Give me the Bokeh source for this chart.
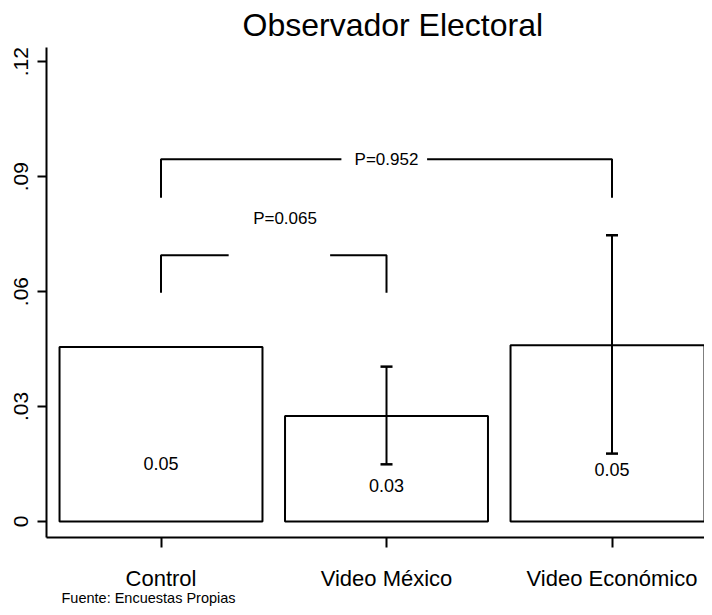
from bokeh.plotting import figure
from bokeh.models import (ColumnDataSource, Whisker, TeeHead, FixedTicker,
                          CustomJSTickFormatter, Title, Range1d)
from bokeh.core.properties import value
from bokeh.embed import file_html
from bokeh.resources import INLINE

# ---- data ----
categories = ["Control", "Video México", "Video Económico"]
x_pos = [1, 2, 3]
means = [0.0455, 0.0275, 0.046]
value_labels = ["0.05", "0.03", "0.05"]
label_y = [0.015, 0.0093, 0.0135]

ci_x = [2, 3]
ci_low = [0.0149, 0.0177]
ci_high = [0.0404, 0.0747]

y_ticks = [0, 0.03, 0.06, 0.09, 0.12]

p_texts = ["P=0.065", "P=0.952"]
bracket_from = [1, 1]
bracket_to = [2, 3]
bracket_top = [0.0695, 0.0945]
bracket_leg_bottom = [0.0597, 0.0845]
gap_start = [1.30, 1.80]
gap_end = [1.75, 2.18]
p_text_x = [1.55, 2.0]
p_text_y = [0.079, 0.0945]

FONT = "Liberation Sans"

p = figure(width=704, height=607, output_backend="svg", toolbar_location=None,
           x_range=Range1d(0.4922, 3.4102), y_range=Range1d(-0.0042, 0.1237),
           min_border_left=46, min_border_right=0, min_border_top=47,
           min_border_bottom=70)
p.background_fill_color = "white"
p.border_fill_color = "white"
p.outline_line_color = None
p.xgrid.grid_line_color = None
p.ygrid.grid_line_color = None

p.title.text = "Observador Electoral"
p.title.align = "left"
p.title.offset = 196
p.title.standoff = 9
p.title.text_font = FONT
p.title.text_font_size = "32px"
p.title.text_font_style = "normal"
p.title.text_color = "black"

# bars
src = ColumnDataSource(dict(x=x_pos, top=means, lab=value_labels, ly=label_y))
p.vbar(x="x", top="top", bottom=0, width=0.9, source=src,
       fill_color="white", line_color="black", line_width=2)

p.text(x="x", y="ly", text="lab", source=src, text_align="center",
       text_baseline="middle", text_font=value(FONT),
       text_font_size="18px", text_color="black")

# error bars
esrc = ColumnDataSource(dict(x=ci_x, lo=ci_low, hi=ci_high))
w = Whisker(base="x", lower="lo", upper="hi", source=esrc,
            line_color="black", line_width=2, level="annotation",
            upper_head=TeeHead(size=12, line_color="black", line_width=2.5),
            lower_head=TeeHead(size=12, line_color="black", line_width=2.5))
p.add_layout(w)

# brackets
for i in range(len(p_texts)):
    x0, x1 = bracket_from[i], bracket_to[i]
    top, leg = bracket_top[i], bracket_leg_bottom[i]
    p.line([x0, x0, gap_start[i]], [leg, top, top], line_color="black", line_width=2)
    p.line([gap_end[i], x1, x1], [top, top, leg], line_color="black", line_width=2)
p.text(x=p_text_x, y=p_text_y, text=p_texts, text_align="center",
       text_baseline="middle", text_font=value(FONT), text_font_size="17px",
       text_color="black")

# axes
p.xaxis.ticker = FixedTicker(ticks=x_pos)
p.xaxis.major_label_overrides = {x: c for x, c in zip(x_pos, categories)}
p.xaxis.minor_tick_line_color = None
p.xaxis.major_tick_in = 0
p.xaxis.major_tick_out = 10
p.xaxis.major_label_standoff = 18
p.xaxis.major_label_text_font = FONT
p.xaxis.major_label_text_font_size = "22px"
p.xaxis.major_label_text_color = "black"
p.xaxis.axis_line_width = 2
p.xaxis.major_tick_line_width = 2

p.yaxis.ticker = FixedTicker(ticks=y_ticks)
p.yaxis.formatter = CustomJSTickFormatter(
    code="return tick == 0 ? '0' : tick.toFixed(2).replace(/^0/, '');")
p.yaxis.major_label_orientation = "vertical"
p.yaxis.minor_tick_line_color = None
p.yaxis.major_tick_in = 0
p.yaxis.major_tick_out = 9
p.yaxis.major_label_standoff = 9
p.yaxis.major_label_text_font = FONT
p.yaxis.major_label_text_font_size = "21px"
p.yaxis.major_label_text_color = "black"
p.yaxis.axis_line_width = 2
p.yaxis.major_tick_line_width = 2

src_note = Title(text="Fuente: Encuestas Propias", align="left", offset=15,
                 text_font=FONT, text_font_size="14.5px",
                 text_font_style="normal", text_color="black", standoff=-11)
p.add_layout(src_note, "below")

open("out.html", "w").write(file_html(p, INLINE))
